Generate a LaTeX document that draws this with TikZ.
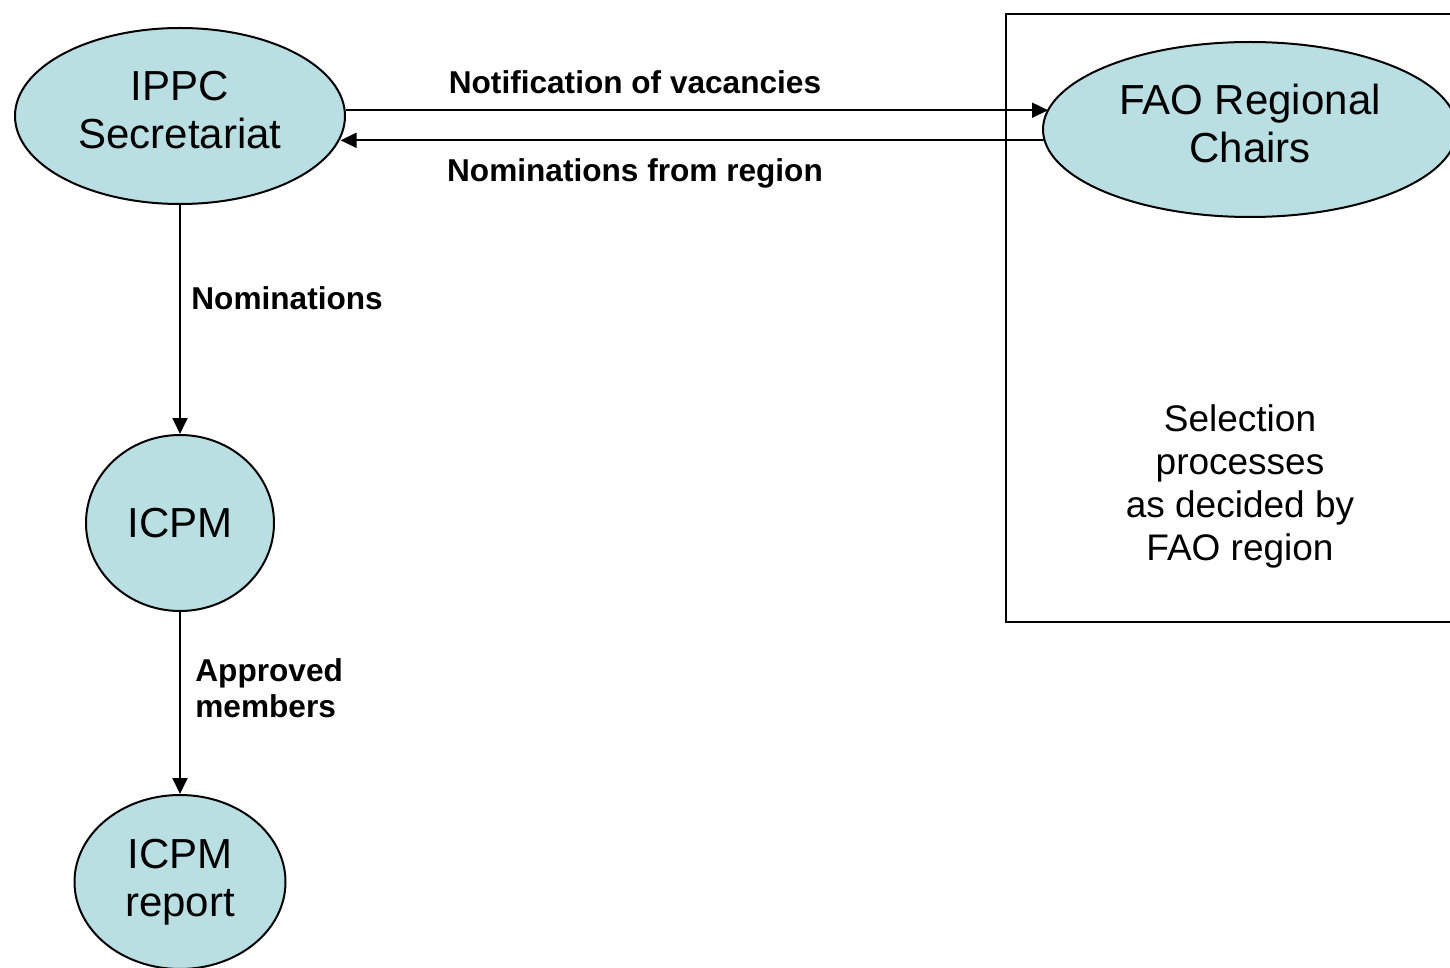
\documentclass[tikz,border=0pt]{standalone}
\usepackage{fontspec}
\setmainfont{Liberation Sans}
\usetikzlibrary{arrows.meta,shapes.geometric}
\definecolor{ipbubble}{HTML}{BADFE3}
\tikzset{
  bubble/.style={
    ellipse,
    draw=black,
    fill=ipbubble,
    line width=1pt,
    inner sep=0pt,
    align=center,
    font=\fontsize{21}{24}\selectfont
  },
  regionbox/.style={
    draw=black,
    line width=1.2pt,
    inner sep=0pt
  },
  flow/.style={
    -{Triangle[length=8pt,width=7.5pt]},
    line width=.9pt,
    draw=black
  },
  flowlabel/.style={font=\bfseries\fontsize{15.8}{18}\selectfont, inner sep=0pt},
  boxtext/.style={font=\fontsize{18.5}{21.5}\selectfont, align=center, inner sep=0pt}
}

\begin{document}
\begin{tikzpicture}[x=0.5pt,y=-0.5pt]
  \clip (0,0) rectangle (1450,968);

  % selection box on the right, cut by the page edge
  \node[regionbox, minimum width=234pt, minimum height=304pt] (region) at (1240,318) {};
  \node[boxtext] (selection) at (1240,486)
    {Selection\\processes\\as decided by\\FAO region};

  \node[bubble, minimum width=165pt, minimum height=88pt, text depth=6pt] (ippc) at (180,116)
    {IPPC\\Secretariat};
  \node[bubble, minimum width=207pt, minimum height=87.5pt, text depth=6pt] (fao) at (1250,129.5)
    {FAO Regional\\Chairs};
  \node[bubble, minimum width=94pt, minimum height=88pt] (icpm) at (180,523)
    {ICPM};
  \node[bubble, minimum width=105.5pt, minimum height=87pt] (report) at (180,882)
    {ICPM\\report};

  \draw[flow] (ippc.2.5) -- (ippc.2.5 -| fao.174.2);
  \draw[flow] (fao.-177.4) -- (fao.-177.4 -| ippc.-8.2);
  \draw[flow] (ippc.south) -- (icpm.north);
  \draw[flow] (icpm.south) -- (report.north);

  \node[flowlabel] (notif) at (635,82) {Notification of vacancies};
  \node[flowlabel] (fromregion) at (635,173) {Nominations from region};
  \node[flowlabel, anchor=west] (nomin) at (191,298) {Nominations};
  \node[flowlabel, anchor=west, align=left] (approved) at (195,688)
    {Approved\\members};
\end{tikzpicture}
\end{document}
